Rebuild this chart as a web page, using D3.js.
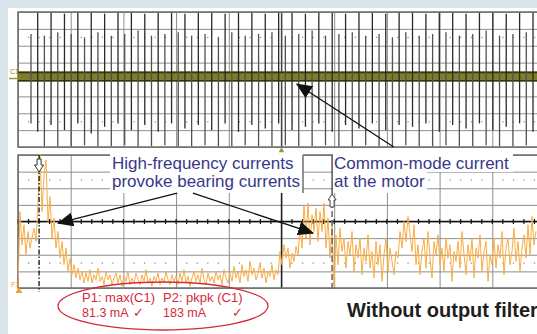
<!DOCTYPE html>
<html>
<head>
<meta charset="utf-8">
<script src="https://cdn.jsdelivr.net/npm/d3@7"></script>
<style>
  body { margin: 0; background: #d9e4eb; }
  svg { display: block; font-family: "Liberation Sans", Arial, sans-serif; }
</style>
</head>
<body>
<svg id="scope" width="537" height="334"></svg>
<script>
// top trace (C1): switching spikes, extent above / below the centre in divisions
const spikeUp = [
  2.7, 3.95, 2.6, 3.95, 2.8, 3.9, 2.7, 3.95, 2.5, 3.95,
  2.8, 3.9, 2.6, 3.95, 2.7, 3.95, 2.9, 3.9, 2.6, 3.95,
  2.7, 3.95, 2.8, 3.9, 2.6, 3.95, 2.7, 3.95, 2.5, 3.9,
  2.8, 3.95, 2.6, 3.95, 2.7, 3.9, 2.8, 3.95, 2.6, 3.95,
  2.7, 3.9, 2.9, 3.95, 2.6, 3.95, 2.7, 3.9, 2.8, 3.95,
  2.6, 3.95, 2.7, 3.9, 2.5, 3.95, 2.8, 3.95, 2.6, 3.9,
  2.7, 3.95, 2.8, 3.95, 2.6, 3.9, 2.7, 3.95, 2.9, 3.95,
  2.6, 3.9, 2.7, 3.95, 2.8, 3.95
];
const spikeDown = [
  2.6, 3.1, 3.95, 2.7, 3.95, 3.0, 3.95, 2.6, 3.9, 3.2,
  3.95, 2.8, 3.95, 2.6, 3.9, 3.0, 3.95, 2.7, 3.95, 3.1,
  3.9, 2.6, 3.95, 2.9, 3.95, 2.7, 3.9, 3.0, 3.95, 2.6,
  3.95, 3.1, 3.9, 2.7, 3.95, 2.9, 3.95, 2.6, 3.9, 3.0,
  3.95, 2.8, 3.95, 2.6, 3.9, 3.1, 3.95, 2.7, 3.95, 2.9,
  3.9, 2.6, 3.95, 3.0, 3.95, 2.7, 3.9, 2.8, 3.95, 2.6,
  3.95, 3.1, 3.9, 2.7, 3.95, 2.9, 3.95, 2.6, 3.9, 3.0,
  3.95, 2.8, 3.95, 2.6, 3.9, 3.1
];

// bottom trace (F1), mA
const currentMA = [
  1, 46, 26, 38, 20, 34, 24, 30, 36, 28,
  52, 81, 46, 68, 77, 40, 55, 30, 42, 24,
  34, 18, 28, 14, 24, 10, 18, 8, 14, 6,
  12, 5, 10, 3, 9, 4, 11, 3, 8, 5,
  12, 4, 7, 2, 10, 5, 8, 2, 6, 9,
  3, 8, 1, 7, 4, 10, 2, 6, 3, 9,
  5, 2, 8, 4, 11, 3, 6, 1, 7, 4,
  9, 2, 6, 3, 10, 5, 2, 8, 4, 7,
  2, 9, 4, 11, 3, 7, 1, 6, 10, 4,
  8, 3, 12, 5, 2, 9, 4, 7, 3, 10,
  5, 8, 2, 11, 6, 3, 9, 4, 13, 6,
  10, 3, 14, 7, 11, 4, 16, 8, 12, 5,
  9, 15, 6, 12, 3, 10, 7, 14, 5, 11,
  8, 22, 14, 26, 18, 24, 12, 21, 16, 25,
  20, 36, 24, 50, 30, 51, 26, 44, 34, 48,
  28, 46, 34, 51, 24, 42, 18, 38, 1, 32,
  14, 36, 22, 30, 12, 28, 20, 34, 10, 26,
  18, 30, 8, 24, 16, 32, 12, 22, 6, 28,
  14, 26, 4, 20, 30, 10, 24, 16, 8, 22,
  18, 34, 24, 40, 28, 43, 32, 22, 38, 14,
  26, 8, 22, 30, 12, 34, 18, 6, 28, 20,
  32, 14, 24, 10, 30, 18, 26, 4, 22, 16,
  28, 12, 34, 20, 8, 26, 16, 30, 6, 24,
  18, 32, 10, 22, 28, 4, 20, 14, 30, 12,
  26, 18, 34, 8, 24, 30, 14, 22, 36, 16,
  28, 10, 24, 32, 18, 38, 20, 43, 26, 34
];

const cursorDiv = [0.4, 5.96];
const noteLeft = ["High-frequency currents", "provoke bearing currents"];
const noteRight = ["Common-mode current", "at the motor"];
const measLabels = ["P1: max(C1)", "P2: pkpk (C1)"];
const measValues = ["81.3 mA", "183 mA"];
const footer = "Without output filter";

const svg = d3.select("#scope");
const W = 537;

const x = d3.scaleLinear().domain([0, 10]).range([18, 545]);
const yTop = d3.scaleLinear().domain([-4, 4]).range([147, 12]);
const yBot = d3.scaleLinear().domain([0, 80]).range([288, 155]);
const xSpike = d3.scaleLinear().domain([0, spikeUp.length - 1]).range([31, 533]);
const xSample = d3.scaleLinear().domain([0, currentMA.length - 1]).range([18, 536]);

svg.append("rect").attr("x", 8).attr("y", 8).attr("width", W - 8).attr("height", 326).attr("fill", "#fff");

const gridColor = "#8e8e8e";

function grid(yScale, yDomain, top, bottom) {
  // vertical division lines
  svg.append("g")
    .attr("transform", "translate(0," + bottom + ")")
    .call(d3.axisBottom(x).tickValues(d3.range(0, 11)).tickSize(-(bottom - top)).tickFormat(""))
    .call(g => g.select(".domain").remove())
    .selectAll("line").attr("stroke", gridColor).attr("stroke-width", 1);
  // horizontal division lines
  svg.append("g")
    .attr("transform", "translate(18,0)")
    .call(d3.axisRight(yScale).tickValues(yDomain).tickSize(W - 18).tickFormat(""))
    .call(g => g.select(".domain").remove())
    .selectAll("line").attr("stroke", gridColor).attr("stroke-width", 1);
}

function dots(yScale, values) {
  const pts = [];
  values.forEach(v => {
    d3.range(0, 50).forEach(k => { if (k % 5 !== 0) pts.push([k / 5, v]); });
  });
  svg.append("g").selectAll("rect").data(pts).enter().append("rect")
    .attr("x", d => x(d[0]) - 0.5).attr("y", d => yScale(d[1]) - 0.5)
    .attr("width", 1.2).attr("height", 1.2).attr("fill", "#888");
}

// top panel
grid(yTop, d3.range(-4, 5), 12, 147);
dots(yTop, [2.5, -2.5]);
svg.append("line").attr("x1", x(5)).attr("x2", x(5)).attr("y1", yTop(4)).attr("y2", yTop(-4))
  .attr("stroke", "#444").attr("stroke-width", 1.3);

// bottom panel
grid(yBot, d3.range(0, 81, 10), 155, 288);
dots(yBot, [65, 15]);
svg.append("line").attr("x1", 18).attr("x2", W).attr("y1", yBot(40)).attr("y2", yBot(40))
  .attr("stroke", "#111").attr("stroke-width", 1.4);
svg.append("g").selectAll("line").data(d3.range(0, 50)).enter().append("line")
  .attr("x1", d => x(d / 5)).attr("x2", d => x(d / 5))
  .attr("y1", yBot(40) - 2.5).attr("y2", yBot(40) + 2.5)
  .attr("stroke", "#111").attr("stroke-width", 1.2);
svg.append("line").attr("x1", x(5)).attr("x2", x(5)).attr("y1", 193).attr("y2", 288)
  .attr("stroke", "#222").attr("stroke-width", 1.4);

// panel borders
[[12, 147], [155, 288]].forEach(p => {
  svg.append("path").attr("d", `M${W},${p[0]}H18V${p[1]}H${W}`)
    .attr("fill", "none").attr("stroke", "#6e6e6e").attr("stroke-width", 1.6);
});

// white boxes behind the notes
svg.append("rect").attr("x", 110).attr("y", 149).attr("width", 193).attr("height", 44).attr("fill", "#fff");
svg.append("rect").attr("x", 333).attr("y", 149).attr("width", 180).attr("height", 23).attr("fill", "#fff");
svg.append("rect").attr("x", 333).attr("y", 172).attr("width", 94).attr("height", 21).attr("fill", "#fff");
svg.append("line").attr("x1", 303).attr("x2", 303).attr("y1", 155).attr("y2", 193)
  .attr("stroke", "#666").attr("stroke-width", 1.4);

// C1 band
svg.append("rect").attr("x", 18).attr("y", yTop(0.47)).attr("width", W - 18)
  .attr("height", yTop(-0.12) - yTop(0.47)).attr("fill", "#7d7d2c");
[0.42, -0.07].forEach(v => {
  svg.append("line").attr("x1", 18).attr("x2", W).attr("y1", yTop(v)).attr("y2", yTop(v))
    .attr("stroke", "#34340f").attr("stroke-width", 1.6);
});
svg.append("g").selectAll("line").data(spikeUp).enter().append("line")
  .attr("x1", (d, i) => xSpike(i)).attr("x2", (d, i) => xSpike(i))
  .attr("y1", d => yTop(d)).attr("y2", (d, i) => yTop(-spikeDown[i]))
  .attr("stroke", (d, i) => i % 2 ? "#2a2a2a" : "#505050").attr("stroke-width", 1.3);

// C1 / F1 / trigger markers
svg.append("text").attr("x", 10).attr("y", 74).attr("font-size", 7).attr("fill", "#858520").text("C1");
svg.append("line").attr("x1", 9).attr("x2", 18).attr("y1", 78.5).attr("y2", 78.5).attr("stroke", "#9a9a30").attr("stroke-width", 1.5);
svg.append("path").attr("d", d3.symbol(d3.symbolTriangle, 14)()).attr("transform", `translate(${x(5)},150.5)`).attr("fill", "#9a9a2a");
svg.append("text").attr("x", 11).attr("y", 287).attr("font-size", 7).attr("fill", "#f0a030").text("F1");
svg.append("path").attr("d", d3.symbol(d3.symbolTriangle, 22)()).attr("transform", `translate(19,291)`).attr("fill", "#f3a02e");

// F1 trace
svg.append("clipPath").attr("id", "clipBot").append("rect").attr("x", 18).attr("y", 154).attr("width", W - 18).attr("height", 138);
svg.append("path").datum(currentMA)
  .attr("clip-path", "url(#clipBot)")
  .attr("fill", "none").attr("stroke", "#f9ad45").attr("stroke-width", 1)
  .attr("d", d3.line().x((d, i) => xSample(i)).y(d => yBot(d)));

// cursors
svg.append("line").attr("x1", x(cursorDiv[0])).attr("x2", x(cursorDiv[0])).attr("y1", 155).attr("y2", 292)
  .attr("stroke", "#111").attr("stroke-width", 1.3).attr("stroke-dasharray", "5,2,1.5,2");
svg.append("line").attr("x1", x(cursorDiv[1])).attr("x2", x(cursorDiv[1])).attr("y1", 155).attr("y2", 193)
  .attr("stroke", "#555").attr("stroke-width", 1.5);
svg.append("line").attr("x1", x(cursorDiv[1])).attr("x2", x(cursorDiv[1])).attr("y1", 193).attr("y2", 290)
  .attr("stroke", "#666").attr("stroke-width", 1.5).attr("stroke-dasharray", "6,3");
const c1 = x(cursorDiv[0]), c2 = x(cursorDiv[1]);
svg.append("path").attr("d", `M${c1 - 2},159V165H${c1 - 4.5}L${c1},172L${c1 + 4.5},165H${c1 + 2}V159Z`)
  .attr("fill", "#fff").attr("stroke", "#333").attr("stroke-width", 1);
svg.append("path").attr("d", `M${c2 - 2},207V200H${c2 - 4}L${c2},194L${c2 + 4},200H${c2 + 2}V207Z`)
  .attr("fill", "#fff").attr("stroke", "#444").attr("stroke-width", 1);

// arrows
svg.append("defs").append("marker").attr("id", "head")
  .attr("viewBox", "0 0 16 14").attr("refX", 15).attr("refY", 7)
  .attr("markerWidth", 16).attr("markerHeight", 14).attr("markerUnits", "userSpaceOnUse")
  .attr("orient", "auto")
  .append("path").attr("d", "M0,0L16,7L0,14Z").attr("fill", "#111");
const arrows = [
  [x(3.02), yBot(57), x(0.76), yBot(39)],
  [x(3.32), yBot(57), x(5.6), yBot(33)],
  [x(7.13), yTop(-4), x(5.29), yTop(-0.27)]
];
arrows.forEach(a => {
  svg.append("line").attr("x1", a[0]).attr("y1", a[1]).attr("x2", a[2]).attr("y2", a[3])
    .attr("stroke", "#111").attr("stroke-width", 1.3).attr("marker-end", "url(#head)");
});

// notes
const noteColor = "#38388a";
noteLeft.forEach((t, i) => {
  svg.append("text").attr("x", 112).attr("y", 168.5 + i * 18).attr("font-size", 17).attr("fill", noteColor).text(t);
});
noteRight.forEach((t, i) => {
  svg.append("text").attr("x", 334).attr("y", 168.5 + i * 18).attr("font-size", 17).attr("fill", noteColor).text(t);
});

// measurement box
const red = "#d42a3a";
svg.append("ellipse").attr("cx", 163).attr("cy", 306).attr("rx", 105).attr("ry", 24)
  .attr("fill", "none").attr("stroke", red).attr("stroke-width", 1.3);
measLabels.forEach((t, i) => {
  svg.append("text").attr("x", 82 + i * 81).attr("y", 302).attr("font-size", 13).attr("fill", red).text(t);
  svg.append("text").attr("x", 82 + i * 81).attr("y", 317).attr("font-size", 12.5).attr("fill", red).text(measValues[i]);
  svg.append("text").attr("x", i ? 232 : 133).attr("y", 317).attr("font-size", 12.5).attr("fill", red).text("✓");
});

svg.append("text").attr("x", 347).attr("y", 317).attr("font-size", 20).attr("font-weight", "bold")
  .attr("fill", "#1e1e1e").text(footer);
</script>
</body>
</html>
